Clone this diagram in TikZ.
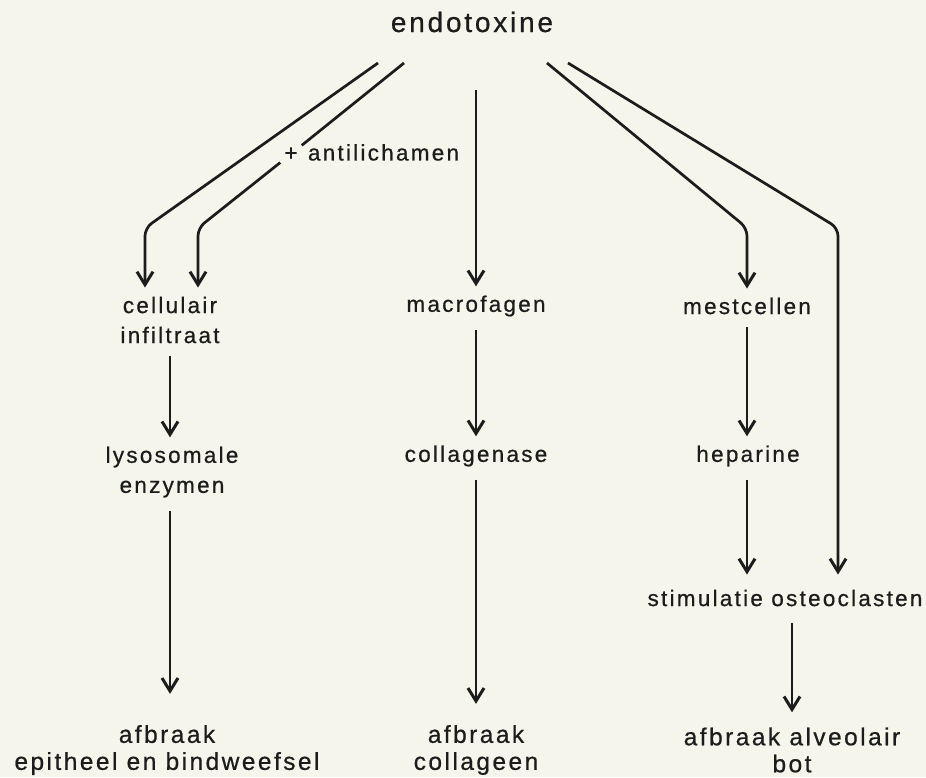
\documentclass[tikz,border=0pt]{standalone}
\usepackage{fontspec}
\setmainfont[LetterSpace=10, FakeBold=0.6]{Liberation Sans}
\usetikzlibrary{arrows.meta,positioning,calc}
\definecolor{paper}{RGB}{245,245,236}
\definecolor{ink}{RGB}{28,28,28}

\begin{document}
\begin{tikzpicture}[
    x=1pt, y=-1pt,
    lbl/.style={font=\fontsize{22.5}{30}\selectfont, text=ink, align=center, inner xsep=2pt, inner ysep=9pt},
    endlbl/.style={lbl, font=\fontsize{24.5}{27}\selectfont},
    link/.style={ink, line width=2.7pt},
    flow/.style={link, -{Straight Barb[length=13pt,width=16pt,line width=3pt]}},
    elbow/.style={flow, rounded corners=8pt}
]
\fill[paper] (0,0) rectangle (926,777);
\useasboundingbox (0,0) rectangle (926,777);

% Source
\node[lbl, font=\fontsize{28}{32}\selectfont] (endo) at (472,22) {endotoxine};
\coordinate (s1) at (378,63);
\coordinate (s2) at (404,63);
\coordinate (s3) at (476,90);
\coordinate (s4) at (547,63);
\coordinate (s5) at (568,63);
\coordinate (k1) at (145,228);
\coordinate (k2) at (198,228);
\coordinate (k4) at (747,228);
\coordinate (k5) at (838,228);

% First row
\node[lbl] (cell) at (170,320) {cellulair\\infiltraat};
\node[lbl] (macro) at (476,306) {macrofagen};
\node[lbl] (mest) at (747,306) {mestcellen};

% Second row
\node[lbl] (lyso) at (172,472) {lysosomale\\enzymen};
\node[lbl] (coll) at (476,456) {collagenase};
\node[lbl] (hep) at (748,456) {heparine};
\node[lbl] (stim) at (785,598) {stimulatie osteoclasten};

% End points
\node[endlbl] (afb1) at (167,750) {afbraak\\epitheel en bindweefsel};
\node[endlbl] (afb2) at (476,750) {afbraak\\collageen};
\node[endlbl] (afb3) at (792,750) {afbraak alveolair\\bot};

% Antibody label on the second branch
\node[lbl, inner sep=4pt] (plus) at (291,154) {+};
\node[lbl, anchor=base west, inner sep=0pt] (anti) at ([xshift=6pt]plus.base east) {antilichamen};

% Branches from endotoxine
\draw[elbow] (s1) -- (k1) -- (k1 |- cell.north);
\draw[link] (s2) -- (plus);
\draw[elbow] (plus) -- (k2) -- (k2 |- cell.north);
\draw[flow] (s3) -- (macro.north);
\draw[elbow] (s4) -- (k4) -- (k4 |- mest.north);
\draw[elbow, shorten >=6pt] (s5) -- (k5) -- (k5 |- stim.north);

% Chains
\draw[flow, shorten <=4pt] (cell.south) -- (lyso.north -| cell.south);
\draw[flow, shorten <=4pt, shorten >=22pt] (lyso.south -| cell.south) -- (afb1.north -| cell.south);
\draw[flow, shorten <=4pt] (macro.south) -- (coll.north);
\draw[flow, shorten <=4pt, shorten >=12pt] (coll.south) -- (afb2.north);
\draw[flow, shorten <=4pt] (mest.south) -- (hep.north -| mest.south);
\draw[flow, shorten <=4pt, shorten >=6pt] (hep.south -| mest.south) -- (stim.north -| mest.south);
\draw[flow, shorten <=8pt, shorten >=6pt] (stim.south -| afb3.north) -- (afb3.north);
\end{tikzpicture}
\end{document}
